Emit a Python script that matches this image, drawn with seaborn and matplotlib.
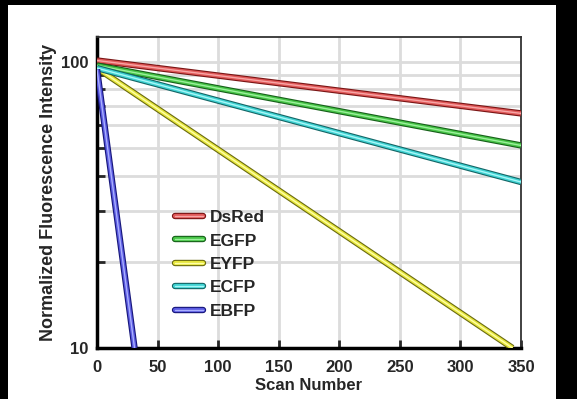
import numpy as np
import pandas as pd
import seaborn as sns
import matplotlib.pyplot as plt
import matplotlib.patheffects as pe
from matplotlib.patches import Rectangle
from matplotlib.ticker import FixedLocator, NullFormatter, FixedFormatter

# data (straight lines on the log axis)
proteins = ['DsRed', 'EGFP', 'EYFP', 'ECFP', 'EBFP']
scan_start = [0, 0, 0, 0, 0]
scan_end = [350, 350, 343, 350, 31]
start_val = [101, 97, 95, 95, 94]
end_val = [66, 51, 10, 38, 10]

fill = ['#e05858', '#46c446', '#e6e63c', '#3fd2d2', '#5a5ae0']
edge = ['#7a1515', '#17601a', '#6a6a10', '#146666', '#16167a']
shine = ['#f7a6a6', '#9cf09c', '#ffffa8', '#a8f7f7', '#aab0ff']

x_ticks = [0, 50, 100, 150, 200, 250, 300, 350]
y_minor = [20, 30, 40, 50, 60, 70, 80, 90]

df = pd.DataFrame({
    'protein': np.repeat(proteins, 2),
    'scan': np.ravel(np.column_stack([scan_start, scan_end])),
    'intensity': np.ravel(np.column_stack([start_val, end_val])),
})

sns.set_style('white')
plt.rcParams['font.family'] = ['Liberation Sans', 'DejaVu Sans']
plt.rcParams['font.weight'] = 'bold'

fig = plt.figure(figsize=(5.77, 3.99), dpi=100, facecolor='black')
fig.patches.append(Rectangle((8 / 577, 0), (556 - 8) / 577, (399 - 5) / 399,
                             transform=fig.transFigure, facecolor='white',
                             edgecolor='none', zorder=-10))
ax = fig.add_axes([97 / 577, 1 - 348 / 399, 424 / 577, 311 / 399])

ax.set_yscale('log')
for gx in x_ticks[1:-1]:
    ax.axvline(gx, color='#dcdcdc', lw=2, zorder=0)
for gy in y_minor + [100]:
    ax.axhline(gy, color='#dcdcdc', lw=2, zorder=0)

data_lines = []
for i, name in enumerate(proteins):
    sub = df[df['protein'] == name]
    sns.lineplot(data=sub, x='scan', y='intensity', color=fill[i], lw=3.0,
                 ax=ax, legend=False, zorder=3)
    ln = ax.lines[-1]
    ln.set_label(name)
    ln.set_solid_capstyle('butt')
    ln.set_path_effects([
        pe.Stroke(linewidth=4.6, foreground=edge[i]),
        pe.Stroke(linewidth=3.0, foreground=fill[i]),
        pe.Stroke(linewidth=1.0, foreground=shine[i]),
    ])
    data_lines.append(ln)

ax.set_xlim(0, 350)
ax.set_ylim(10, 122)
ax.xaxis.set_major_locator(FixedLocator(x_ticks))
ax.yaxis.set_major_locator(FixedLocator([10, 100]))
ax.yaxis.set_major_formatter(FixedFormatter(['10', '100']))
ax.yaxis.set_minor_locator(FixedLocator(y_minor))
ax.yaxis.set_minor_formatter(NullFormatter())
ax.tick_params(axis='x', which='major', direction='in', length=6, width=2,
               labelsize=12, pad=9, bottom=True)
ax.tick_params(axis='y', which='major', direction='in', length=0,
               labelsize=12, pad=6, left=True)
ax.tick_params(axis='y', which='minor', direction='in', length=6, width=2,
               left=True)
for lab in ax.get_xticklabels() + ax.get_yticklabels():
    lab.set_fontweight('bold')

for s in ['left', 'bottom']:
    ax.spines[s].set_linewidth(2.5)
    ax.spines[s].set_color('black')
for s in ['top', 'right']:
    ax.spines[s].set_linewidth(1.3)
    ax.spines[s].set_color('#333333')
    ax.spines[s].set_visible(True)

ax.set_xlabel('Scan Number', fontsize=12, fontweight='bold', labelpad=2)
ax.set_ylabel('Normalized Fluorescence Intensity', fontsize=13,
              fontweight='bold', labelpad=3)

leg = ax.legend(handles=data_lines, loc='upper left',
                bbox_to_anchor=(0.163, 0.472), frameon=False,
                handlelength=1.6, handletextpad=0.4, labelspacing=0.48,
                borderpad=0, prop={'weight': 'bold', 'size': 12.5})
for h in leg.legend_handles:
    h.set_solid_capstyle('round')

fig.savefig('out.png', dpi=100, facecolor=fig.get_facecolor())
